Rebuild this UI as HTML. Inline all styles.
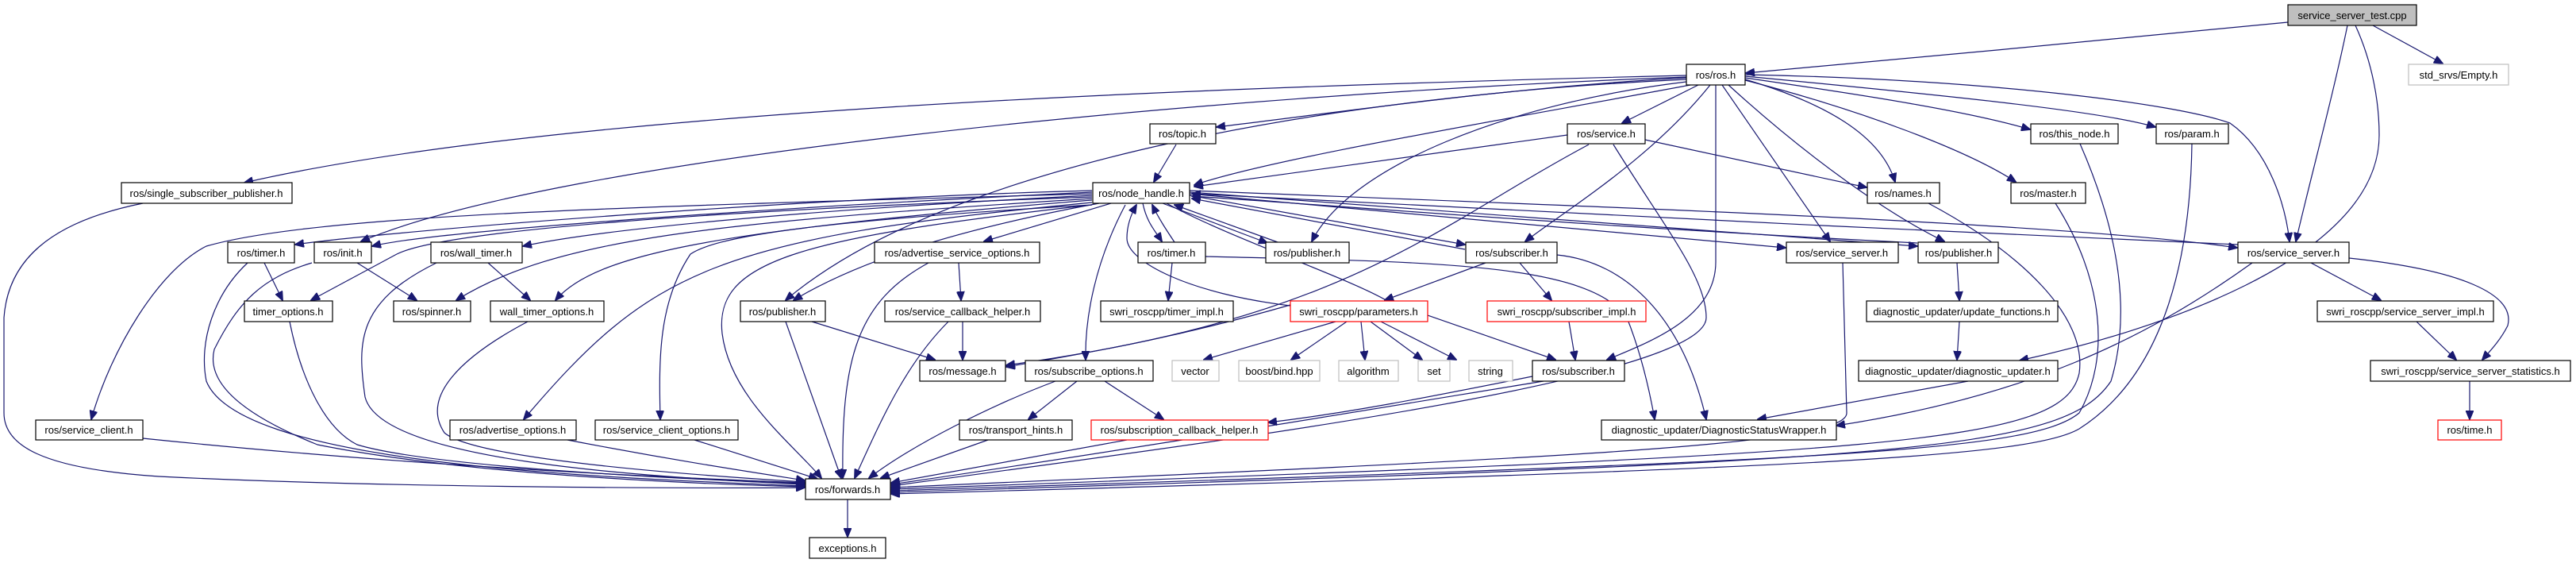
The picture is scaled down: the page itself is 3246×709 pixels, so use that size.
<!DOCTYPE html>
<html><head><meta charset="utf-8"><style>
html,body{margin:0;padding:0;background:#fff;width:3246px;height:709px;overflow:hidden}
svg{display:block}
text{font-family:"Liberation Sans",Arial,sans-serif;font-size:13px;text-anchor:middle;fill:#000}
.e{fill:none;stroke:#191970;stroke-width:1.2;marker-end:url(#a)}
.n{fill:#fff;stroke:#000;stroke-width:1.2}
.g{fill:#fff;stroke:#bfbfbf;stroke-width:1.2}
.r{fill:#fff;stroke:#ff0000;stroke-width:1.2}
</style></head><body>
<svg width="3246" height="709" viewBox="0 0 3246 709" xmlns="http://www.w3.org/2000/svg">
<defs><marker id="a" markerUnits="userSpaceOnUse" markerWidth="12" markerHeight="10" refX="11" refY="5" orient="auto"><path d="M0,0 L12,5 L0,10 z" fill="#191970" stroke="#191970"/></marker></defs>
<g>
<path class="e" d="M2883,28 C2700,45 2400,75 2200,92"/>
<path class="e" d="M2990,32 L3078,80"/>
<path class="e" d="M2958,32 C2940,120 2910,230 2893,304"/>
<path class="e" d="M2968,32 C2990,80 2998,130 2998,170 C2998,330 2700,420 2545,454"/>
<path class="e" d="M2125,95 C1500,110 700,140 308,230"/>
<path class="e" d="M2125,97 C1500,120 700,200 455,304"/>
<path class="e" d="M2125,98 C1900,110 1700,140 1533,160"/>
<path class="e" d="M2130,107 C1900,150 1600,200 1505,233"/>
<path class="e" d="M2125,100 C1700,120 1200,200 990,378"/>
<path class="e" d="M2140,107 L2044,155"/>
<path class="e" d="M2155,107 C2080,200 1980,260 1922,304"/>
<path class="e" d="M2162,107 L2162,330 C2162,400 2080,430 2025,453"/>
<path class="e" d="M2170,107 L2306,304"/>
<path class="e" d="M2178,107 C2280,200 2380,270 2450,304"/>
<path class="e" d="M2199,100 C2300,130 2370,170 2388,229"/>
<path class="e" d="M2199,98 C2350,120 2480,140 2558,163"/>
<path class="e" d="M2199,101 C2350,140 2480,190 2540,229"/>
<path class="e" d="M2199,96 C2450,120 2650,140 2716,160"/>
<path class="e" d="M2199,94 C2500,100 2740,130 2810,155 C2860,190 2880,260 2885,304"/>
<path class="e" d="M2125,103 C1900,130 1700,210 1653,304"/>
<path class="e" d="M1482,182 L1454,229"/>
<path class="e" d="M1975,170 L1505,235"/>
<path class="e" d="M2073,176 L2352,236"/>
<path class="e" d="M2002,182 C1800,290 1700,400 1268,460"/>
<path class="e" d="M2033,182 C2100,290 2150,350 2150,400 C2150,480 1500,560 1123,612"/>
<path class="e" d="M1376,240 C1000,250 500,290 372,308"/>
<path class="e" d="M1376,242 C1000,260 550,290 469,310"/>
<path class="e" d="M1376,246 C1000,265 750,290 659,310"/>
<path class="e" d="M1376,248 C900,265 560,290 500,320 L392,378"/>
<path class="e" d="M1376,250 C900,280 700,300 575,378"/>
<path class="e" d="M1376,252 C900,290 750,320 700,378"/>
<path class="e" d="M1376,244 C800,260 400,270 260,310 C200,340 140,440 115,528"/>
<path class="e" d="M1376,255 C900,300 820,340 660,528"/>
<path class="e" d="M1376,258 C1000,280 900,300 870,320 C830,380 830,450 832,528"/>
<path class="e" d="M1385,256 C1200,290 1080,330 1000,378"/>
<path class="e" d="M1400,256 L1240,304"/>
<path class="e" d="M1440,256 C1445,280 1455,290 1464,304"/>
<path class="e" d="M1480,305 C1470,290 1460,275 1452,258"/>
<path class="e" d="M1418,258 C1380,330 1367,400 1368,453"/>
<path class="e" d="M1376,258 C1000,300 900,330 910,420 C920,500 1000,560 1035,602"/>
<path class="e" d="M1465,256 L1597,306"/>
<path class="e" d="M1610,305 L1480,258"/>
<path class="e" d="M1499,246 L1846,308"/>
<path class="e" d="M1846,314 L1502,250"/>
<path class="e" d="M1499,244 L2250,312"/>
<path class="e" d="M1499,242 L2416,310"/>
<path class="e" d="M1499,240 C2000,260 2600,280 2819,312"/>
<path class="e" d="M2820,308 C2400,290 1800,260 1502,244"/>
<path class="e" d="M2416,306 C2000,285 1700,260 1502,247"/>
<path class="e" d="M1470,256 C1550,300 1700,350 1750,380 L1960,453"/>
<path class="e" d="M1626,385 C1500,370 1420,330 1420,300 C1420,280 1428,265 1432,258"/>
<path class="e" d="M1518,323 C1800,330 2000,330 2050,400 C2070,450 2080,500 2085,528"/>
<path class="e" d="M1962,321 C2050,330 2120,400 2150,528"/>
<path class="e" d="M180,256 C60,280 10,330 5,400 L5,520 C5,560 50,590 200,600 C500,615 900,615 1014,614"/>
<path class="e" d="M333,331 L356,378"/>
<path class="e" d="M312,331 C270,370 250,430 260,480 C300,580 700,600 1014,612"/>
<path class="e" d="M450,331 L525,378"/>
<path class="e" d="M393,331 C330,350 300,380 270,440 C260,480 300,520 400,560 C600,600 900,610 1014,613"/>
<path class="e" d="M615,331 L668,378"/>
<path class="e" d="M550,331 C450,380 450,430 460,500 C480,580 800,600 1014,610"/>
<path class="e" d="M365,405 C380,480 410,540 450,560 C550,590 900,605 1014,609"/>
<path class="e" d="M665,405 C580,450 530,500 560,545 C600,580 900,600 1014,607"/>
<path class="e" d="M180,552 C500,585 800,600 1014,608"/>
<path class="e" d="M715,554 C850,580 950,595 1014,605"/>
<path class="e" d="M875,554 L1030,603"/>
<path class="e" d="M1208,331 L1211,378"/>
<path class="e" d="M1170,331 C1080,380 1060,450 1062,602"/>
<path class="e" d="M1213,405 L1213,453"/>
<path class="e" d="M1195,405 C1140,460 1110,530 1077,602"/>
<path class="e" d="M1023,405 L1178,453"/>
<path class="e" d="M990,405 L1060,602"/>
<path class="e" d="M1477,331 L1472,378"/>
<path class="e" d="M1357,480 L1296,528"/>
<path class="e" d="M1392,480 L1466,528"/>
<path class="e" d="M1330,480 C1250,510 1150,560 1095,602"/>
<path class="e" d="M1245,554 L1110,602"/>
<path class="e" d="M1420,554 L1123,608"/>
<path class="e" d="M1872,331 L1745,378"/>
<path class="e" d="M1915,331 L1955,378"/>
<path class="e" d="M1626,384 C1500,420 1400,440 1268,462"/>
<path class="e" d="M1683,405 L1517,453"/>
<path class="e" d="M1697,405 L1627,453"/>
<path class="e" d="M1715,405 L1720,453"/>
<path class="e" d="M1727,405 L1792,453"/>
<path class="e" d="M1740,405 L1835,453"/>
<path class="e" d="M1977,405 L1985,453"/>
<path class="e" d="M1931,474 C1800,500 1700,520 1598,532"/>
<path class="e" d="M1945,480 C1700,520 1400,570 1123,610"/>
<path class="e" d="M2322,331 L2327,520 C2328,560 2000,575 1123,614"/>
<path class="e" d="M2466,331 L2469,378"/>
<path class="e" d="M2469,405 L2466,453"/>
<path class="e" d="M2480,480 L2215,528"/>
<path class="e" d="M2838,331 C2700,430 2550,500 2314,536"/>
<path class="e" d="M2912,331 L3000,378"/>
<path class="e" d="M2960,325 C3100,340 3170,370 3160,410 C3150,430 3135,445 3128,453"/>
<path class="e" d="M3045,405 L3095,453"/>
<path class="e" d="M3112,480 L3112,528"/>
<path class="e" d="M2430,256 C2550,320 2630,400 2620,470 C2600,560 2400,570 1123,616"/>
<path class="e" d="M2590,256 C2650,350 2660,450 2620,520 C2560,570 2300,580 1123,618"/>
<path class="e" d="M2621,181 C2660,270 2690,380 2660,480 C2600,570 2400,580 1123,620"/>
<path class="e" d="M2762,181 C2760,320 2730,470 2620,540 C2560,575 2300,590 1123,622"/>
<path class="e" d="M1068,629 L1068,676"/>
</g>
<g>
<rect x="2883" y="6" width="162" height="26" fill="#bfbfbf" stroke="#000" stroke-width="1.2"/><text x="2964" y="24">service_server_test.cpp</text>
<rect class="g" x="3035" y="81" width="126" height="26"/><text x="3098" y="99">std_srvs/Empty.h</text>
<rect class="n" x="2125" y="81" width="74" height="26"/><text x="2162" y="99">ros/ros.h</text>
<rect class="n" x="1449" y="156" width="83" height="25"/><text x="1490" y="173">ros/topic.h</text>
<rect class="n" x="1975" y="156" width="98" height="25"/><text x="2024" y="173">ros/service.h</text>
<rect class="n" x="2559" y="156" width="110" height="25"/><text x="2614" y="173">ros/this_node.h</text>
<rect class="n" x="2717" y="156" width="91" height="25"/><text x="2762" y="173">ros/param.h</text>
<rect class="n" x="153" y="230" width="215" height="26"/><text x="260" y="248">ros/single_subscriber_publisher.h</text>
<rect class="n" x="1377" y="230" width="122" height="26"/><text x="1438" y="248">ros/node_handle.h</text>
<rect class="n" x="2353" y="230" width="91" height="26"/><text x="2398" y="248">ros/names.h</text>
<rect class="n" x="2534" y="230" width="94" height="26"/><text x="2581" y="248">ros/master.h</text>
<rect class="n" x="287" y="305" width="84" height="26"/><text x="329" y="323">ros/timer.h</text>
<rect class="n" x="396" y="305" width="72" height="26"/><text x="432" y="323">ros/init.h</text>
<rect class="n" x="543" y="305" width="115" height="26"/><text x="600" y="323">ros/wall_timer.h</text>
<rect class="n" x="1102" y="305" width="208" height="26"/><text x="1206" y="323">ros/advertise_service_options.h</text>
<rect class="n" x="1434" y="305" width="85" height="26"/><text x="1476" y="323">ros/timer.h</text>
<rect class="n" x="1595" y="305" width="105" height="26"/><text x="1647" y="323">ros/publisher.h</text>
<rect class="n" x="1847" y="305" width="115" height="26"/><text x="1905" y="323">ros/subscriber.h</text>
<rect class="n" x="2251" y="305" width="141" height="26"/><text x="2321" y="323">ros/service_server.h</text>
<rect class="n" x="2417" y="305" width="101" height="26"/><text x="2468" y="323">ros/publisher.h</text>
<rect class="n" x="2820" y="305" width="140" height="26"/><text x="2890" y="323">ros/service_server.h</text>
<rect class="n" x="308" y="379" width="111" height="26"/><text x="363" y="397">timer_options.h</text>
<rect class="n" x="496" y="379" width="97" height="26"/><text x="544" y="397">ros/spinner.h</text>
<rect class="n" x="618" y="379" width="143" height="26"/><text x="689" y="397">wall_timer_options.h</text>
<rect class="n" x="933" y="379" width="107" height="26"/><text x="986" y="397">ros/publisher.h</text>
<rect class="n" x="1115" y="379" width="196" height="26"/><text x="1213" y="397">ros/service_callback_helper.h</text>
<rect class="n" x="1387" y="379" width="167" height="26"/><text x="1470" y="397">swri_roscpp/timer_impl.h</text>
<rect class="r" x="1626" y="379" width="173" height="26"/><text x="1712" y="397">swri_roscpp/parameters.h</text>
<rect class="r" x="1874" y="379" width="200" height="26"/><text x="1974" y="397">swri_roscpp/subscriber_impl.h</text>
<rect class="n" x="2352" y="379" width="241" height="26"/><text x="2472" y="397">diagnostic_updater/update_functions.h</text>
<rect class="n" x="2920" y="379" width="222" height="26"/><text x="3031" y="397">swri_roscpp/service_server_impl.h</text>
<rect class="n" x="1159" y="454" width="108" height="26"/><text x="1213" y="472">ros/message.h</text>
<rect class="n" x="1292" y="454" width="161" height="26"/><text x="1372" y="472">ros/subscribe_options.h</text>
<rect class="g" x="1477" y="454" width="59" height="26"/><text x="1506" y="472">vector</text>
<rect class="g" x="1561" y="454" width="102" height="26"/><text x="1612" y="472">boost/bind.hpp</text>
<rect class="g" x="1687" y="454" width="75" height="26"/><text x="1724" y="472">algorithm</text>
<rect class="g" x="1787" y="454" width="40" height="26"/><text x="1807" y="472">set</text>
<rect class="g" x="1851" y="454" width="55" height="26"/><text x="1878" y="472">string</text>
<rect class="n" x="1931" y="454" width="116" height="26"/><text x="1989" y="472">ros/subscriber.h</text>
<rect class="n" x="2342" y="454" width="251" height="26"/><text x="2467" y="472">diagnostic_updater/diagnostic_updater.h</text>
<rect class="n" x="2987" y="454" width="252" height="26"/><text x="3113" y="472">swri_roscpp/service_server_statistics.h</text>
<rect class="n" x="45" y="529" width="135" height="25"/><text x="112" y="546">ros/service_client.h</text>
<rect class="n" x="567" y="529" width="159" height="25"/><text x="646" y="546">ros/advertise_options.h</text>
<rect class="n" x="750" y="529" width="180" height="25"/><text x="840" y="546">ros/service_client_options.h</text>
<rect class="n" x="1209" y="529" width="142" height="25"/><text x="1280" y="546">ros/transport_hints.h</text>
<rect class="r" x="1375" y="529" width="223" height="25"/><text x="1486" y="546">ros/subscription_callback_helper.h</text>
<rect class="n" x="2018" y="529" width="296" height="25"/><text x="2166" y="546">diagnostic_updater/DiagnosticStatusWrapper.h</text>
<rect class="r" x="3072" y="529" width="80" height="25"/><text x="3112" y="546">ros/time.h</text>
<rect class="n" x="1015" y="603" width="107" height="26"/><text x="1068" y="621">ros/forwards.h</text>
<rect class="n" x="1020" y="677" width="96" height="26"/><text x="1068" y="695">exceptions.h</text>
</g>
</svg>
</body></html>
